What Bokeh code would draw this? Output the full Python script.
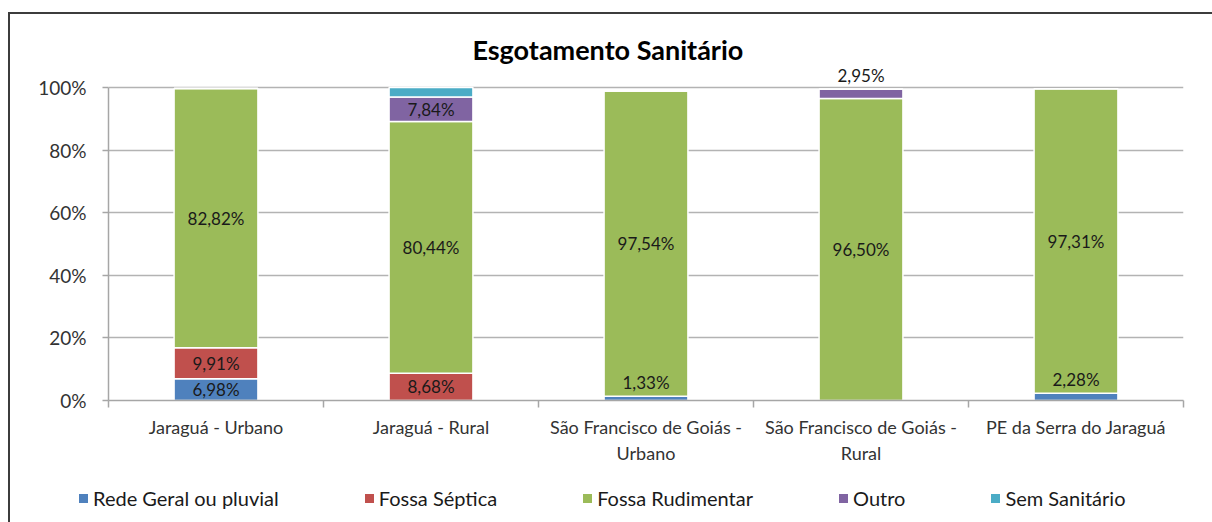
from bokeh.plotting import figure
from bokeh.layouts import column
from bokeh.models import ColumnDataSource, FixedTicker, Range1d, LabelSet, Div
from bokeh.core.properties import value
from bokeh.embed import file_html
from bokeh.resources import INLINE

categories = ["Jaraguá - Urbano", "Jaraguá - Rural", "São Francisco de Goiás -\nUrbano",
              "São Francisco de Goiás -\nRural", "PE da Serra do Jaraguá"]
series_names = ["Rede Geral ou pluvial", "Fossa Séptica", "Fossa Rudimentar", "Outro", "Sem Sanitário"]
rede = [6.98, 0.0, 1.33, 0.0, 2.28]
septica = [9.91, 8.68, 0.0, 0.0, 0.0]
rudimentar = [82.82, 80.44, 97.54, 96.50, 97.31]
outro = [0.0, 7.84, 0.0, 2.95, 0.0]
sem_sanitario = [0.0, 3.04, 0.0, 0.0, 0.0]
shown = [
    [True, False, True, False, True],
    [True, True, False, False, False],
    [True, True, True, True, True],
    [False, True, False, True, False],
    [False, False, False, False, False],
]
y_ticks = [0, 20, 40, 60, 80, 100]
colors = ["#4F81BD", "#C0504D", "#9BBB59", "#8064A2", "#4BACC6"]

FONT = "Lato"
keys = ["rede", "septica", "rudimentar", "outro", "sem"]
xs = [i + 0.5 for i in range(len(categories))]
src = ColumnDataSource(dict(x=xs, rede=rede, septica=septica, rudimentar=rudimentar,
                            outro=outro, sem=sem_sanitario))

# main chart: frame extends a little above 100% so the top label is not clipped
p = figure(width=1198, height=456, output_backend="svg", toolbar_location=None,
           x_range=Range1d(0, len(categories)), y_range=Range1d(0, 107.35),
           min_border_left=98, min_border_right=25, min_border_top=50, min_border_bottom=70)
p.outline_line_color = None
p.background_fill_color = "white"
p.border_fill_color = "white"

p.title.text = "Esgotamento Sanitário"
p.title.align = "left"
p.title.text_font = FONT
p.title.text_font_size = "27px"
p.title.text_font_style = "bold"
p.title.text_color = "#000000"
p.title.offset = 364
p.title.standoff = -2

rends = p.vbar_stack(keys, x="x", width=0.39, source=src, color=colors,
                     line_color="white", line_width=1.5)

# data labels
mx, my, mt = [], [], []
bx, by, bt = [], [], []
vals = [rede, septica, rudimentar, outro, sem_sanitario]
for i in range(len(categories)):
    base = 0.0
    for s in range(len(vals)):
        v = vals[s][i]
        if shown[s][i]:
            txt = f"{v:.2f}".replace(".", ",") + "%"
            if v < 5:
                bx.append(xs[i]); by.append(base + v); bt.append(txt)
            else:
                mx.append(xs[i]); my.append(base + v / 2); mt.append(txt)
        base += v
for (sx, sy, st, bl, off) in [(mx, my, mt, "middle", 0), (bx, by, bt, "bottom", 3)]:
    ls = LabelSet(x="x", y="y", text="t", source=ColumnDataSource(dict(x=sx, y=sy, t=st)),
                  text_align=value("center"), text_baseline=value(bl), y_offset=off,
                  text_font=value(FONT), text_font_size=value("17px"),
                  text_color=value("#1a1a1a"))
    p.add_layout(ls)

# axes
p.xaxis.ticker = FixedTicker(ticks=xs, minor_ticks=list(range(len(categories) + 1)))
p.xaxis.major_label_overrides = {x: c for x, c in zip(xs, categories)}
p.xaxis.major_tick_out = 0
p.xaxis.major_tick_in = 0
p.xaxis.minor_tick_out = 7
p.xaxis.minor_tick_in = 0
p.xaxis.minor_tick_line_color = "#a6a6a6"
p.xaxis.minor_tick_line_width = 1.5
p.xaxis.axis_line_color = "#a6a6a6"
p.xaxis.axis_line_width = 1.5
p.xaxis.major_label_text_font = FONT
p.xaxis.major_label_text_font_size = "18px"
p.xaxis.major_label_text_color = "#333333"
p.xaxis.major_label_standoff = 8

p.yaxis.ticker = FixedTicker(ticks=y_ticks)
p.yaxis.bounds = (0, 100)
p.yaxis.major_label_overrides = {t: f"{t}%" for t in y_ticks}
p.yaxis.minor_tick_line_color = None
p.yaxis.major_tick_out = 6
p.yaxis.major_tick_in = 0
p.yaxis.major_tick_line_color = "#a6a6a6"
p.yaxis.major_tick_line_width = 1.5
p.yaxis.axis_line_color = "#a6a6a6"
p.yaxis.axis_line_width = 1.5
p.yaxis.major_label_text_font = FONT
p.yaxis.major_label_text_font_size = "19px"
p.yaxis.major_label_text_color = "#333333"
p.yaxis.major_label_standoff = 16

p.xgrid.grid_line_color = None
p.ygrid.grid_line_color = "#b3b3b3"
p.ygrid.grid_line_width = 1.5

# legend strip below the chart (HTML text)
items_html = "".join(
    f'<span style="display:inline-flex;align-items:center;margin-right:86px;">'
    f'<span style="display:inline-block;width:9px;height:9px;background:{c};margin-right:5px;"></span>'
    f'{n}</span>'
    for n, c in zip(series_names, colors)
)
legend_div = Div(
    text=f'<div style="display:flex;align-items:center;white-space:nowrap;font-family:Lato;'
         f'font-size:20px;color:#1a1a1a;padding-left:64px;padding-top:2px;height:44px;">'
         f'{items_html}</div>',
    width=1198, height=50)

layout = column(p, legend_div, spacing=0)
layout.styles = {"border-top": "2px solid #3c3c3c", "border-left": "2px solid #3c3c3c",
                 "border-right": "2px solid #3c3c3c",
                 "margin-left": "8px", "margin-top": "12px"}

open("out.html", "w").write(file_html(layout, INLINE))
